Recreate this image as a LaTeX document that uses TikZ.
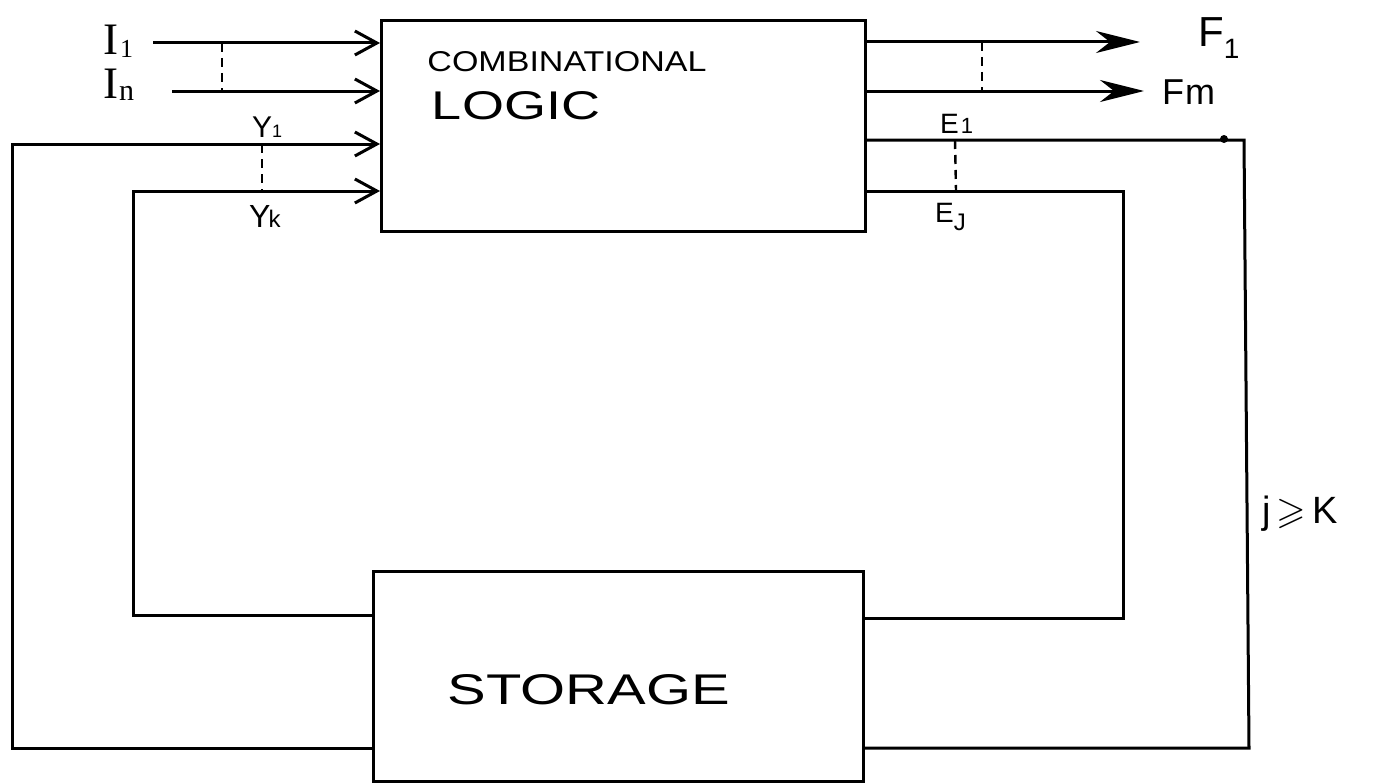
\documentclass[tikz,border=0pt]{standalone}
\usepackage{fontspec}
\setmainfont{Liberation Sans}
\newfontfamily\serifI{Liberation Serif}
\usepackage{amssymb}
\usetikzlibrary{arrows.meta}
\newcommand{\lsub}[3]{\raisebox{-#2}{\fontsize{#1}{#1}\selectfont #3}}
\begin{document}
\begin{tikzpicture}[x=1pt,y=-1pt,
  box/.style={draw, line width=3.2pt, inner sep=0pt, anchor=north west},
  wire/.style={line width=3pt, line join=miter},
  inarrow/.style={wire, -{Straight Barb[length=22pt,width=24pt,line width=3pt]}},
  outarrow/.style={wire, -{Stealth[length=44pt,width=22pt,inset=14pt]}},
  busdash/.style={line width=2.4pt, dash pattern=on 9pt off 6pt},
  lbl/.style={inner sep=0pt}]
\useasboundingbox (0,0) rectangle (1373,784);

% boxes
\node[box, minimum width=484pt, minimum height=211pt] (logic) at (380,19) {};
\node[box, minimum width=490pt, minimum height=210pt] (storage) at (372,570) {};

% box texts
\node[lbl] (comb) at (567,62) {\resizebox{279pt}{20pt}{COMBINATIONAL}};
\node[lbl] (logict) at (516,106) {\resizebox{168pt}{28pt}{LOGIC}};
\node[lbl] (stor) at (589,690) {\resizebox{282pt}{30pt}{STORAGE}};

% inputs
\coordinate (i1s) at (153,43);
\coordinate (ins) at (172,91);
\draw[inarrow] (i1s) -- (i1s -| logic.west);
\draw[inarrow] (ins) -- (ins -| logic.west);
\coordinate (da) at (222,43);
\coordinate (db) at (222,91);
\draw[busdash] (da) -- (db);
\node[lbl, anchor=base west] (li1) at (103,55) {\serifI\fontsize{45}{45}\selectfont I\kern2pt\lsub{26}{3pt}{1}};
\node[lbl, anchor=base west] (lin) at (103,98) {\serifI\fontsize{45}{45}\selectfont I\kern1pt\lsub{30}{2pt}{n}};

% feedback Y1 (outer)
\coordinate (yob) at (12,748);
\coordinate (yo) at (12,144);
\draw[inarrow] (storage.west |- yob) -- (yob) -- (yo) -- (yo -| logic.west);
% feedback Yk (inner)
\coordinate (yib) at (133,615);
\coordinate (yi) at (133,191);
\draw[inarrow] (storage.west |- yib) -- (yib) -- (yi) -- (yi -| logic.west);
\coordinate (dya) at (262,144);
\coordinate (dyb) at (262,191);
\draw[busdash] (dya) -- (dyb);
\node[lbl, anchor=base west] (ly1) at (252,137) {\fontsize{30}{30}\selectfont Y\lsub{18}{0pt}{1}};
\node[lbl, anchor=base west] (lyk) at (249,227) {\fontsize{32}{32}\selectfont Y\kern-2pt\lsub{24}{0pt}{k}};

% outputs
\coordinate (f1e) at (1140,42);
\coordinate (fme) at (1144,91);
\draw[outarrow] (f1e -| logic.east) -- (f1e);
\draw[outarrow] (fme -| logic.east) -- (fme);
\coordinate (dfa) at (982,42);
\coordinate (dfb) at (982,91);
\draw[busdash] (dfa) -- (dfb);
\node[lbl, anchor=base west] (lf1) at (1198,47) {\fontsize{42}{42}\selectfont F\lsub{28}{12pt}{1}};
\node[lbl, anchor=base west] (lfm) at (1162,104) {\fontsize{36}{36}\selectfont F\kern1pt m};

% excitations E1 (outer) and Ej (inner)
\coordinate (eo) at (1244,140);
\coordinate (eob) at (1249,748);
\draw[wire] (eo -| logic.east) -- (eo) -- (eob) -- (eob -| storage.east);
\fill (1224,139) circle (4pt);
\coordinate (ei) at (1123,191);
\coordinate (eib) at (1123,618);
\draw[wire] (ei -| logic.east) -- (ei) -- (eib) -- (eib -| storage.east);
\coordinate (dea) at (955,140);
\coordinate (deb) at (956,191);
\draw[busdash] (dea) -- (deb);
\node[lbl, anchor=base west] (le1) at (940,133) {\fontsize{28}{28}\selectfont E\kern2pt\lsub{22}{0pt}{1}};
\node[lbl, anchor=base west] (lej) at (935,222) {\fontsize{28}{28}\selectfont E\lsub{24}{8pt}{J}};

% condition
\node[lbl, anchor=base west] (cond) at (1262,523) {\fontsize{38}{38}\selectfont j\,$\geqslant$\,K};
\end{tikzpicture}
\end{document}
